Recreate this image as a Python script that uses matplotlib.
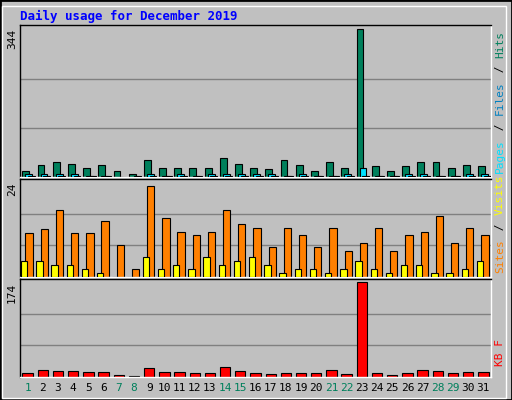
import matplotlib
matplotlib.use("Agg")
import matplotlib.pyplot as plt
import numpy as np

days = list(range(1, 32))
weekend = [1, 7, 8, 14, 15, 21, 22, 28, 29]
hits = [15,29,34,31,22,29,15,6,39,20,22,22,22,45,31,22,18,39,29,15,36,22,344,25,13,25,34,36,20,29,25]
files = [6,6,6,6,2,2,0,0,8,2,6,2,8,6,6,8,6,2,8,2,2,6,22,2,2,6,6,2,2,8,6]
pages = [2,2,2,2,2,2,0,2,2,2,2,2,2,2,2,2,2,2,2,2,2,2,2,2,2,2,2,2,2,2,2]
visits = [11,12,17,11,11,14,8,2,23,15,11.4,10.6,11.4,17,13.4,12.4,7.6,12.4,10.6,7.6,12.4,6.6,8.6,12.4,6.6,10.6,11.4,15.3,8.6,12.4,10.6]
sites = [4,4,3,3,2,1,0,0,5,2,3,2,5,3,4,5,3,1,2,2,1,2,4,2,1,3,3,1,1,2,4]
kbytes = [7.5,13,11,11,9.5,9.5,4,2,17,9.5,9.5,7.5,7.5,19,11,7.5,5.5,7.5,7.5,7.5,13,5.5,174,7.5,4,7.5,13,11,7.5,9.5,9.5]

W, H = 512, 400
fig = plt.figure(figsize=(W/100, H/100), dpi=100)
fig.patch.set_facecolor('#C0C0C0')
mono = 'DejaVu Sans Mono'
GREEN = '#00805C'; CYAN = '#00E0FF'; ORANGE = '#FF8000'; YELLOW = '#FFFF00'; RED = '#FF0000'

fig.add_artist(plt.Rectangle((0, 0), 1, 1, transform=fig.transFigure, fill=False, ec='black', lw=2))
fig.add_artist(plt.Rectangle((2/W, 2/H), 1-8/W, 1-8/H, transform=fig.transFigure, fill=False, ec='white', lw=1))
fig.text(20/W, 1-16/H, 'Daily usage for December 2019', color='#0000FF', fontsize=9, fontweight='bold', family=mono, va='center')

def mkax(top, bottom, vmax, label):
    ax = fig.add_axes([20/W, 1-bottom/H, (491-20)/W, (bottom-top)/H])
    ax.set_facecolor('#C0C0C0')
    ax.set_xlim(0.5, 31.5)
    ax.set_ylim(0, vmax*1.03)
    for k in (1, 2):
        ax.axhline(vmax*k/3, color='#808080', lw=1, zorder=0)
    ax.set_xticks([]); ax.set_yticks([])
    for s in ax.spines.values():
        s.set_color('black'); s.set_linewidth(1)
    ax.spines['right'].set_color('white'); ax.spines['bottom'].set_color('white')
    fig.text(12/W, 1-(top+4)/H, label, rotation=90, fontsize=8, family=mono, ha='center', va='top')
    return ax

x = np.array(days, dtype=float)
ax1 = mkax(25, 177, 344, '344')
ax1.bar(x - 0.12, hits, width=0.45, color=GREEN, ec='black', lw=0.8, zorder=2)
ax1.bar(x + 0.08, files, width=0.45, color=CYAN, ec='black', lw=0.8, zorder=3)
ax1.bar(x + 0.25, pages, width=0.45, color='#00C0FF', ec='black', lw=0.8, zorder=4)

ax2 = mkax(179, 277, 24, '24')
ax2.bar(x - 0.22, sites, width=0.42, color=YELLOW, ec='black', lw=0.8, zorder=3)
ax2.bar(x + 0.1, visits, width=0.48, color=ORANGE, ec='black', lw=0.8, zorder=2)

ax3 = mkax(279, 377, 174, '174')
ax3.bar(x, kbytes, width=0.68, color=RED, ec='black', lw=0.8, zorder=2)

for d in days:
    xf = (20 + (d - 0.5) / 31 * 471) / W
    fig.text(xf, 1-388/H, str(d), color=GREEN if d in weekend else 'black', fontsize=8, family=mono, ha='center', va='center')

def side(y_bottom, parts, step=7.2):
    y = y_bottom
    for txt, col in parts:
        fig.text(500/W, 1-y/H, txt, rotation=90, color=col, fontsize=8, family=mono, ha='center', va='bottom')
        y -= len(txt) * step

side(173, [('Pages', CYAN), (' / ', 'black'), ('Files', '#0080C0'), (' / ', 'black'), ('Hits', GREEN)])
side(273, [('Sites', ORANGE), (' / ', 'black'), ('Visits', YELLOW)])
side(366, [('KB F', RED)])

fig.savefig('out.png', dpi=100, facecolor=fig.get_facecolor())
